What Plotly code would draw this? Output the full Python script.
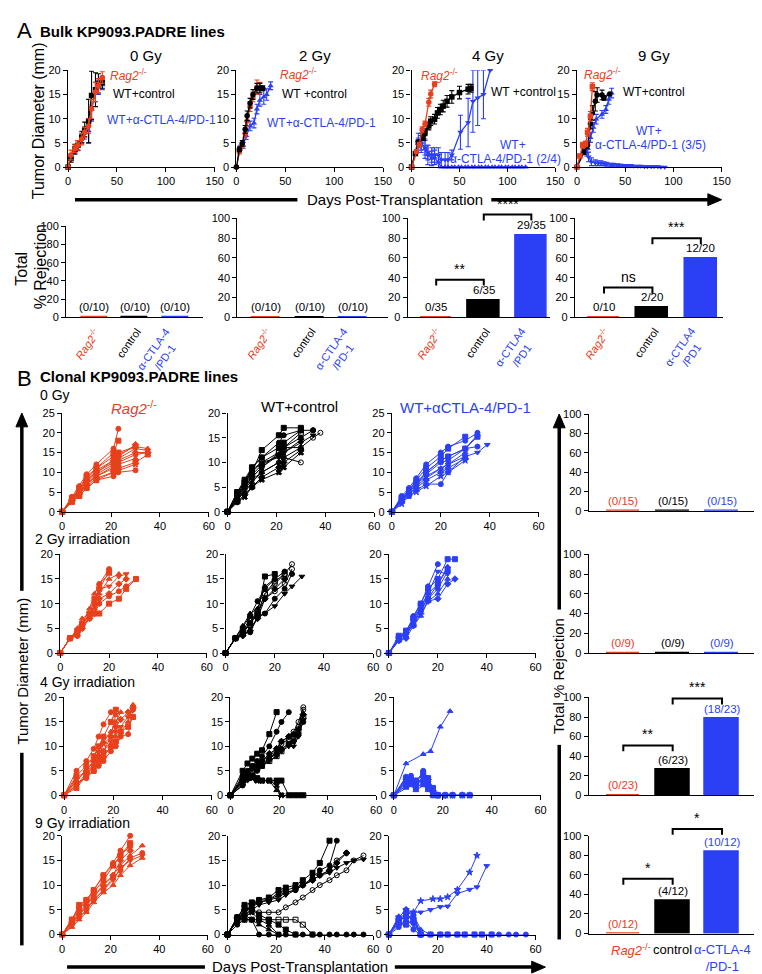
import plotly.graph_objects as go

W, H = 762, 974
FONT = "Liberation Sans, Arial, Helvetica, sans-serif"
RED = "#e8401c"
BLUE = "#2b3ff5"
BLACK = "#000000"

# ---------------- Panel A: bulk lines, group means ----------------
A_TITLES = ["0 Gy", "2 Gy", "4 Gy", "9 Gy"]

A0_DAYS = [0, 3, 7, 10, 14, 17, 21, 24, 28, 31, 35]
A0_RAG = [0, 2.5, 3.8, 4.5, 5.8, 7.2, 8.5, 12, 15.5, 16.8, 18.5]
A0_RAG_ERR = [0, 1, 0.8, 1, 1.2, 1, 1.5, 2, 2, 1.5, 1.2]
A0_WT = [0, 1.8, 3.7, 4.5, 6.2, 7.8, 9.5, 14.8, 16, 17.3, 17.5]
A0_WT_ERR = [0, 0.8, 1, 1, 1.2, 1.5, 4.5, 5, 3.5, 2, 1.2]
A0_ICB = [0, 2, 3.5, 4.4, 6, 7, 7.5, 12, 15.5, 16.5, 17]
A0_ICB_ERR = [0, 0.7, 0.8, 1, 1, 1.2, 2.5, 2.5, 2, 1.5, 1]

A2_RAG_DAYS = [0, 3, 6, 9, 11, 14, 17, 21, 24]
A2_RAG = [0, 3.2, 4.5, 7, 9.5, 12.5, 14.5, 16.5, 16.5]
A2_RAG_ERR = [0, 0.5, 0.6, 0.8, 1, 1, 1, 1.5, 1]
A2_WT_DAYS = [0, 3, 6, 9, 11, 14, 17, 21, 24, 27]
A2_WT = [0, 3.7, 4.9, 7.8, 10.6, 13.2, 15, 16.3, 16.3, 16.3]
A2_WT_ERR = [0, 0.5, 0.6, 0.8, 1, 1, 1, 1, 1, 0.5]
A2_ICB_DAYS = [0, 4, 7, 10, 14, 18, 21, 24, 28, 31, 35]
A2_ICB = [0, 4, 4.5, 6.5, 8.5, 9.1, 12, 13.8, 14.5, 15, 16.8]
A2_ICB_ERR = [0, 0.5, 0.6, 0.8, 1, 1, 1, 1.2, 1.5, 1.2, 0.8]

A4_RAG_DAYS = [0, 5, 8, 11, 14, 18, 20, 24]
A4_RAG = [0, 3.2, 4.6, 7.7, 8.9, 13.4, 15.1, 17.1]
A4_RAG_ERR = [0, 0.4, 0.5, 0.6, 0.6, 0.8, 0.8, 0.5]
A4_WT_DAYS = [0, 4, 7, 12, 14, 18, 20, 24, 27, 30, 33, 37, 42, 50, 59, 62]
A4_WT = [0, 2.8, 5.1, 6.1, 7.2, 8.5, 9.5, 9.9, 11.2, 11.9, 12.6, 13.6, 14.5, 15.4, 16.1, 16.3]
A4_WT_ERR = [0, 0.4, 0.5, 0.6, 0.7, 0.8, 0.9, 1, 1.1, 1.1, 1.2, 1.2, 1.3, 1.3, 1, 0.8]
A4_ICB_R_DAYS = [0, 7, 10, 14, 17, 21, 24, 28, 31, 35, 38, 42, 45, 49, 52, 56, 59, 63, 66,
                 70, 73, 77, 80, 84, 87, 91, 94, 98, 101, 105, 108, 112, 115, 119]
A4_ICB_R = [0, 5.5, 5, 3.8, 2.5, 1.8, 2, 1, 0, 0, 0, 0, 0, 0, 0, 0, 0, 0, 0,
            0, 0, 0, 0, 0, 0, 0, 0, 0, 0, 0, 0, 0, 0, 0]
A4_ICB_R_ERR = [0, 1.5, 2, 2, 2, 1.5, 1.5, 1.5, 0, 0, 0, 0, 0, 0, 0, 0, 0, 0, 0,
                0, 0, 0, 0, 0, 0, 0, 0, 0, 0, 0, 0, 0, 0, 0]
A4_ICB_NR_DAYS = [0, 7, 10, 14, 17, 21, 24, 28, 31, 35, 38, 42, 51, 59, 64, 69, 75, 82]
A4_ICB_NR = [0, 5, 5, 4, 3, 2.5, 2.5, 2.5, 1.5, 1.5, 1.5, 2.5, 7.2, 9.2, 13.6, 14.3, 15, 20]
A4_ICB_NR_ERR = [0, 1, 1.5, 1.5, 1.5, 1.5, 1.5, 1.5, 1.5, 1.5, 1.5, 1, 3.5, 5, 6.4, 5.7, 5, 0]

A9_RAG_DAYS = [0, 3, 6, 9, 11, 14, 16]
A9_RAG = [0, 2.3, 4.5, 4.8, 7.2, 10.5, 16.6]
A9_RAG_ERR = [0, 0.3, 0.6, 0.6, 0.8, 1, 0.8]
A9_WT_DAYS = [0, 7, 11, 14, 16, 19, 21, 26, 28, 34]
A9_WT = [0, 3.1, 4.5, 8.9, 11.2, 13.6, 14.9, 14.9, 14.3, 15.1]
A9_WT_ERR = [0, 0.5, 0.6, 1, 1.5, 2, 1.5, 1, 0.5, 0]
A9_ICB_NR_DAYS = [0, 7, 11, 14, 17, 20, 26, 30, 33, 36]
A9_ICB_NR = [0, 3.5, 3.8, 6.1, 8.2, 9.9, 10.9, 11.9, 14, 15.3]
A9_ICB_NR_ERR = [0, 0.5, 0.8, 1, 1, 1, 0.8, 0.8, 1, 1]
A9_ICB_R_DAYS = [0, 7, 10, 12, 15, 19, 22, 25, 28, 31, 35, 38, 42, 45, 49, 52, 56, 59, 63,
                 66, 70, 73, 77, 80, 84, 87, 91]
A9_ICB_R = [0, 4, 3.5, 2.1, 1.1, 0.9, 0.8, 0.8, 0.7, 0.6, 0.5, 0.5, 0.4, 0.4, 0.3, 0.3,
            0.3, 0.2, 0.2, 0.2, 0.1, 0.1, 0.1, 0.1, 0.1, 0, 0]
A9_ICB_R_ERR = [0, 1, 1.2, 1, 0.8, 0.6, 0.5, 0.5, 0.4, 0.4, 0.3, 0.3, 0.3, 0.2, 0.2, 0.2,
                0.2, 0.1, 0.1, 0.1, 0.1, 0.1, 0.1, 0.1, 0.1, 0, 0]

# Panel A rejection bars
A_BAR_VALS = [[0, 0, 0], [0, 0, 0], [0, 17.1, 82.9], [0, 10, 60]]
A_BAR_LABELS = [["(0/10)", "(0/10)", "(0/10)"], ["(0/10)", "(0/10)", "(0/10)"],
                ["0/35", "6/35", "29/35"], ["0/10", "2/20", "12/20"]]
A_BAR_CATS = [["<i>Rag2</i><sup>-/-</sup>", "control", "α-CTLA-4<br>/PD-1"],
              ["<i>Rag2</i><sup>-/-</sup>", "control", "α-CTLA-4<br>/PD-1"],
              ["<i>Rag2</i><sup>-/-</sup>", "control", "α-CTLA4<br>/PD1"],
              ["<i>Rag2</i><sup>-/-</sup>", "control", "α-CTLA4<br>/PD1"]]
A_SIG = [[], [], [(0, 1, "**", 38), (1, 2, "****", 104)], [(0, 1, "ns", 30), (1, 2, "***", 80)]]

# ---------------- Panel B: clonal lines, individual mice ----------------
B_ROW_TITLES = ["0 Gy", "2 Gy irradiation", "4 Gy irradiation", "9 Gy irradiation"]
B_COL_TITLES = ["<i>Rag2</i><sup>-/-</sup>", "WT+control", "WT+αCTLA-4/PD-1"]

B0_RAG_DAYS = [0, 4, 7, 10, 14, 21, 23, 30, 35]
B0_RAG = [[0, 3.8, 6.5, 9.5, 12, 16, 21], [0, 3.5, 6, 8.5, 11, 15, 18],
          [0, 3.2, 5.5, 8, 10.5, 13, 14.5, 16.5, 16], [0, 3, 5, 7.5, 10, 12.5, 13.5, 16, 15.5],
          [0, 2.8, 4.5, 7, 9.5, 12, 13, 15, 15], [0, 3.2, 5, 7, 9, 11.5, 12.5, 14.5, 15],
          [0, 2.5, 4, 6, 8, 10, 11, 12.5, 14.5], [0, 3, 5, 7, 9, 11, 12, 13.5],
          [0, 2.5, 4.5, 6.5, 8.5, 10, 10.5, 12], [0, 2.7, 4, 6, 8, 9, 10, 10.5],
          [0, 3.5, 6, 9, 11, 14, 15, 16.5], [0, 3, 5.5, 8, 10, 13, 14, 17]]
B0_WT_DAYS = [0, 4, 7, 10, 14, 21, 23, 30, 35, 38]
B0_WT = [[0, 4, 6, 8, 12.5, 15.5, 17, 17], [0, 3.5, 6, 9, 11, 14, 15.5, 16.5, 16.5],
         [0, 3, 5, 7, 9, 12, 13, 13, 15, 16], [0, 2.5, 4.5, 6.5, 8, 10, 11, 10],
         [0, 3, 5.5, 8, 10, 11, 12, 14, 15.5], [0, 2, 3.5, 5, 7, 9, 10, 12.5],
         [0, 3.5, 6, 8.5, 10, 12, 13, 16], [0, 3, 5, 7.5, 9.5, 11.5, 13, 15, 16.5],
         [0, 2.5, 4, 6, 8, 10, 11, 13], [0, 2, 3, 5, 6.5, 8, 9, 12],
         [0, 4, 6.5, 9, 11, 13, 14, 16.5], [0, 3, 5, 7, 9, 11.5, 12, 14.5]]
B0_ICB_DAYS = [0, 4, 7, 10, 14, 20, 23, 30, 35, 39]
B0_ICB = [[0, 4, 6, 8.5, 12, 15, 16.5, 18, 20], [0, 3.5, 5.5, 8, 11, 14, 16, 19],
          [0, 3, 5, 7, 10, 13, 14, 16, 19.5], [0, 3, 5, 7, 9, 11, 12, 14, 15, 17],
          [0, 2.5, 4.5, 6, 8, 10, 11, 13.5], [0, 2.5, 4, 5.5, 7, 7, 10, 14],
          [0, 3.5, 5.5, 7.5, 10, 13, 14, 16, 19], [0, 3, 4.5, 6.5, 8.5, 11, 12, 15],
          [0, 2, 4, 5, 6.5, 9, 10, 13], [0, 3, 5, 7, 9.5, 12.5, 13, 16, 16.5]]

B2_RAG_DAYS = [0, 4, 7, 9, 12, 14, 16, 20, 24, 27, 31]
B2_RAG = [[0, 3, 3.5, 5, 7.5, 10, 14, 17], [0, 3, 4, 5.5, 8, 11, 13, 16.5],
          [0, 3, 4.5, 6, 9, 12, 14, 16], [0, 3, 4, 6, 8, 9.5, 13, 13.5, 15.5, 16],
          [0, 3, 3.5, 5, 7, 8, 11, 12, 14, 15], [0, 3, 4, 5.5, 7, 8, 10, 11.5, 12.5, 13.5, 15],
          [0, 3, 4.5, 6, 7.5, 8, 8, 10, 11, 13, 15], [0, 3, 5, 7, 8, 9, 12, 15, 16]]
B2_WT_DAYS = [0, 4, 7, 10, 13, 16, 20, 24, 27, 31]
B2_WT = [[0, 3, 4, 6, 8, 15.5, 16], [0, 3, 5, 7.5, 10.5, 13, 15, 16.5],
         [0, 3, 4, 6, 8, 12, 14, 16, 18], [0, 3, 4, 6.5, 8, 11, 12.5, 14, 17],
         [0, 3, 3.5, 5, 7, 8, 9.5, 12, 13.5, 15.5], [0, 3, 3.5, 4.5, 7, 11, 13, 15],
         [0, 3, 4.5, 7, 8, 12, 14.5, 16], [0, 3, 4, 4.2, 7.5, 8, 11, 13, 16],
         [0, 3, 5.5, 8, 9, 13.5, 15]]
B2_ICB_DAYS = [0, 4, 7, 10, 13, 16, 20, 24, 27]
B2_ICB = [[0, 3, 4, 7.5, 10, 13.5, 18], [0, 3.5, 4.5, 7, 10, 13, 15, 19, 19],
          [0, 2.5, 3.5, 6, 9, 12, 14, 17.5], [0, 3, 4, 6.5, 9.5, 12, 16.5, 16],
          [0, 2.5, 3, 5.5, 8, 10.5, 11, 14, 15], [0, 3, 4, 6, 8.5, 11, 13, 16.5],
          [0, 3, 4.5, 7, 9, 11, 14, 17], [0, 2.5, 4, 5.5, 7.5, 10.5, 12, 15]]

B4_RAG_DAYS = [0, 5, 9, 12, 14, 16, 19, 21, 23, 26, 28]
B4_RAG = [[0, 5, 7, 9.5, 12, 14.5, 17], [0, 4, 6, 8, 10, 12, 15, 17.5],
          [0, 3, 5, 6, 7, 8, 10, 12, 13, 15, 18.5], [0, 2, 4, 6, 7, 9, 11, 13, 14, 16, 17.5],
          [0, 3.5, 5, 7, 8, 9, 12, 14, 15.5, 17, 18], [0, 2.5, 3.5, 5, 6, 7, 9, 10, 12, 12.5, 17.5],
          [0, 1.5, 4, 5, 6.5, 8, 10, 11, 13, 14, 16], [0, 3, 5, 7, 9, 11, 13, 15, 17],
          [0, 2, 4.5, 6, 8, 10.5, 12, 16.5]]
B4_WT_DAYS = [0, 5, 7, 9, 11, 13, 16, 19, 21, 24, 26, 28, 30]
B4_WT = [[0, 5, 6.5, 7.5, 8.5, 9.2, 12.5, 17], [0, 4, 5, 6, 7, 8, 10, 13, 15, 17],
         [0, 3.5, 4.5, 6, 6.5, 7, 8, 9.5, 11, 12, 13, 15, 18],
         [0, 3, 4, 5, 6, 6.5, 7.5, 9, 10.5, 11.5, 12, 14, 17.5],
         [0, 2, 3, 4, 5, 6, 7, 8, 9, 10, 10, 12, 15.5],
         [0, 3, 4.5, 5.5, 6, 7, 8.5, 9.5, 11, 12, 12.5, 13.5, 16.5],
         [0, 2.5, 3.5, 4.5, 5.5, 6, 7, 8, 9, 10.5, 11.5, 13, 16],
         [0, 2, 3.5, 4, 5, 6, 7.5, 8.5, 9.5, 10.5, 11, 12.5, 15],
         [0, 3.5, 3.5, 3.5, 3, 3, 3, 1, 0], [0, 3, 3.5, 3.5, 3, 3, 3, 2, 0],
         [0, 3, 4, 4, 3.5, 3, 3, 3, 3, 0, 0, 0, 0]]
B4_ICB_DAYS = [0, 5, 7, 9, 12, 14, 16, 18, 21, 24, 28, 31]
B4_ICB = [[0, 3.8, 3.5, 2.5, 5, 3.5, 1, 0, 0, 0, 0, 0], [0, 3.5, 3, 3, 4.5, 3.5, 1.5, 0, 0, 0, 0, 0],
          [0, 3, 3.5, 2, 4, 3, 0, 0], [0, 2.5, 2.5, 2, 3.5, 2.5, 0.5, 0, 0],
          [0, 2, 3, 2.5, 3, 2, 1, 0, 0], [0, 3.5, 4, 3, 4, 2, 0, 0, 0, 0],
          [0, 2, 2.5, 1.5, 2.5, 1.5, 0, 0], [0, 1.5, 2, 1, 2, 1, 0, 0],
          [0, 3, 3, 2, 3.5, 3, 0.5, 0, 0, 0, 0, 0]]
B4_ICB_ESC_DAYS = [0, 5, 12, 15, 19, 23]
B4_ICB_ESC = [0, 6.5, 8.4, 9, 14, 17.2]

B9_RAG_DAYS = [0, 4, 7, 10, 13, 17, 21, 24, 28, 33]
B9_RAG = [[0, 3, 5.5, 7, 9, 12, 14.5, 17, 20], [0, 3, 5, 7, 8.5, 11, 14, 16, 18.5],
          [0, 2.5, 4.5, 6, 8, 10, 12, 14, 16, 18], [0, 2, 4, 5.5, 7, 9, 11, 13.5, 15, 16],
          [0, 2.5, 4, 6, 7.5, 10, 12, 15, 17], [0, 2, 3.5, 5, 7, 9, 11.5, 13, 15.5, 16.5],
          [0, 3, 6, 7, 9, 12, 14, 16, 18], [0, 1.5, 3, 4.5, 6.5, 8.5, 10, 12, 14, 15.5]]
B9_WT_DAYS = [0, 4, 7, 10, 13, 17, 21, 24, 28, 31, 35, 38, 42, 45, 49, 52, 56]
B9_WT = [[0, 3, 6, 6.5, 7, 7.5, 9, 9.5, 10, 11, 12.5, 14.5, 19],
         [0, 3, 5, 5.5, 6.5, 7, 8, 8.5, 9, 10, 11.5, 13, 14, 19],
         [0, 3, 4, 6, 7, 7, 7.5, 8.5, 9, 10, 11, 12, 13, 15, 16.5],
         [0, 3, 4, 5, 4.5, 4.5, 4.5, 5.5, 6.5, 7.5, 9, 10, 11, 12, 13, 15, 16],
         [0, 3, 4, 5, 6, 6.5, 7, 8, 9, 10, 11, 12, 12.5, 13.5, 14.5, 15, 15.2],
         [0, 3.5, 5, 6, 6.5, 7, 8.5, 9, 9.5, 10, 11, 12, 13, 14.5, 16.5],
         [0, 3, 3, 3, 3, 3, 3, 3, 3, 2, 0],
         [0, 2, 3, 3, 0, 0, 0, 0, 0, 0, 0, 0, 0, 0, 0, 0, 0],
         [0, 3.5, 4, 3, 2, 1, 0], [0, 3, 3.5, 4.5, 3, 2, 0],
         [0, 3.5, 5.5, 5, 4, 3, 2, 1, 0]]
B9_ICB_DAYS = [0, 4, 7, 10, 13, 17, 21, 24, 28, 31, 35, 38, 42, 45, 49, 52, 56]
B9_ICB = [[0, 3.5, 5, 4, 0, 0, 0, 0, 0, 0, 0, 0, 0, 0, 0, 0, 0],
          [0, 2.5, 4, 3, 0, 0, 0, 0, 0, 0, 0, 0, 0], [0, 3, 3.5, 3.5, 0, 0, 0, 0],
          [0, 2, 3, 2, 0, 0], [0, 3, 4.5, 2.5, 0], [0, 1.5, 2.5, 1, 0],
          [0, 2.5, 2, 3, 0], [0, 3.5, 3, 4, 1, 0]]
B9_ICB_ESC1_DAYS = [0, 4, 7, 10, 13, 18, 21, 24, 28, 33, 36]
B9_ICB_ESC1 = [0, 3.5, 5, 4.5, 6.8, 7.2, 7.2, 7.6, 9.1, 12.6, 16]
B9_ICB_ESC2_DAYS = [0, 4, 7, 10, 13, 17, 21, 24, 28, 33, 36, 40]
B9_ICB_ESC2 = [0, 3, 4, 4.5, 4.5, 5, 5.6, 5.7, 8.3, 9.1, 9.6, 13.9]

# Panel B rejection bars
B_BAR_VALS = [[0, 0, 0], [0, 0, 0], [0, 26.1, 78.3], [0, 33.3, 83.3]]
B_BAR_LABELS = [["(0/15)", "(0/15)", "(0/15)"], ["(0/9)", "(0/9)", "(0/9)"],
                ["(0/23)", "(6/23)", "(18/23)"], ["(0/12)", "(4/12)", "(10/12)"]]
B_SIG = [[], [], [(0, 1, "**", 51), (1, 2, "***", 99)], [(0, 1, "*", 56), (1, 2, "*", 107)]]
B_BAR_CATS = ["<i>Rag2</i><sup>-/-</sup>", "control", "α-CTLA-4<br>/PD-1"]

GROUP_COLORS = [RED, BLACK, BLUE]

# ---------------- helpers ----------------
fig = go.Figure()
layout = {}
shapes = []
annotations = []
AX = {"n": 0}


def PX(x):
    return x / W


def PY(y):
    return 1 - y / H


def add_axes(x0, x1, ytop, ybot, xr, yr, xt, yt, bar=False):
    AX["n"] += 1
    n = AX["n"]
    sx = "" if n == 1 else str(n)
    common = dict(showline=True, linecolor="black", linewidth=1.3, showgrid=False,
                  zeroline=False, ticks="outside", ticklen=4, tickwidth=1.2,
                  tickcolor="black", tickfont=dict(size=11, family=FONT, color="black"),
                  fixedrange=True)
    xa = dict(common, domain=[PX(x0), PX(x1)], range=xr, anchor="y" + sx)
    if bar:
        xa.update(ticks="", showticklabels=False)
    else:
        xa.update(tickvals=xt)
    ya = dict(common, domain=[PY(ybot), PY(ytop)], range=yr, anchor="x" + sx, tickvals=yt)
    layout["xaxis" + sx] = xa
    layout["yaxis" + sx] = ya
    info = dict(x="x" + sx, y="y" + sx, x0=x0, x1=x1, ytop=ytop, ybot=ybot, xr=xr, yr=yr)
    return info


def to_px(info, xv, yv):
    xp = info["x0"] + (xv - info["xr"][0]) / (info["xr"][1] - info["xr"][0]) * (info["x1"] - info["x0"])
    yp = info["ybot"] - (yv - info["yr"][0]) / (info["yr"][1] - info["yr"][0]) * (info["ybot"] - info["ytop"])
    return xp, yp


def text(x, y, s, size=12, color="black", xanchor="center", yanchor="middle", angle=0, bold=False):
    if bold:
        s = "<b>" + s + "</b>"
    annotations.append(dict(x=PX(x), y=PY(y), xref="paper", yref="paper", text=s,
                            showarrow=False, xanchor=xanchor, yanchor=yanchor,
                            textangle=angle, font=dict(size=size, family=FONT, color=color)))


def line_px(x0, y0, x1, y1, width=3.5):
    shapes.append(dict(type="line", xref="paper", yref="paper", x0=PX(x0), y0=PY(y0),
                       x1=PX(x1), y1=PY(y1), line=dict(color="black", width=width)))


def head(tipx, tipy, direction):
    if direction == "right":
        pts = [(tipx, tipy), (tipx - 14, tipy - 6), (tipx - 14, tipy + 6)]
    else:
        pts = [(tipx, tipy), (tipx - 6, tipy + 14), (tipx + 6, tipy + 14)]
    path = "M " + " L ".join(f"{PX(a):.5f},{PY(b):.5f}" for a, b in pts) + " Z"
    shapes.append(dict(type="path", xref="paper", yref="paper", path=path,
                       fillcolor="black", line=dict(color="black", width=1)))


def mean_trace(info, days, vals, errs, color, symbol):
    fig.add_trace(go.Scatter(x=days, y=vals, mode="lines+markers", xaxis=info["x"], yaxis=info["y"],
                             line=dict(color=color, width=1.3),
                             marker=dict(color=color, symbol=symbol, size=5.5),
                             error_y=dict(type="data", array=errs, color=color, thickness=1.1, width=2.5),
                             cliponaxis=False, showlegend=False, hoverinfo="skip"))


def mouse_traces(info, days, series, color, symbols):
    for i, vals in enumerate(series):
        sym = symbols[i % len(symbols)]
        fig.add_trace(go.Scatter(x=days[:len(vals)], y=vals, mode="lines+markers",
                                 xaxis=info["x"], yaxis=info["y"],
                                 line=dict(color=color, width=1),
                                 marker=dict(color=color, symbol=sym, size=5,
                                             line=dict(color=color, width=1)),
                                 cliponaxis=False, showlegend=False, hoverinfo="skip"))


def bar_panel(info, vals, labels, label_colors, sigs, width):
    fig.add_trace(go.Bar(x=[0, 1, 2], y=vals, width=width, xaxis=info["x"], yaxis=info["y"],
                         marker=dict(color=GROUP_COLORS, line=dict(color=GROUP_COLORS, width=1.5)),
                         showlegend=False, hoverinfo="skip"))
    for i in range(3):
        xp, yp = to_px(info, i, vals[i])
        text(xp, yp - 2, labels[i], size=11.5, color=label_colors[i], yanchor="bottom")
    for a, b, s, yv in sigs:
        xa, ya = to_px(info, a, yv)
        xb, _ = to_px(info, b, yv)
        drop = 6
        path = (f"M {PX(xa):.5f},{PY(ya + drop):.5f} L {PX(xa):.5f},{PY(ya):.5f} "
                f"L {PX(xb):.5f},{PY(ya):.5f} L {PX(xb):.5f},{PY(ya + drop):.5f}")
        shapes.append(dict(type="path", xref="paper", yref="paper", path=path,
                           line=dict(color="black", width=2)))
        text((xa + xb) / 2, ya - 1, s, size=14, yanchor="bottom")


# ---------------- Panel A ----------------
text(4, 17, "A", size=22, xanchor="left")
text(27, 18, "Bulk KP9093.PADRE lines", size=15, xanchor="left", bold=True)

A_X = [(58, 207), (229, 378), (407, 553), (575, 722)]
A_INFO = []
for k, (x0, x1) in enumerate(A_X):
    info = add_axes(x0, x1, 57, 155, [0, 150], [0, 20], [0, 50, 100, 150], [0, 5, 10, 15, 20])
    A_INFO.append(info)
    text((x0 + x1) / 2 + 5, 42, A_TITLES[k], size=15)

i0, i2, i4, i9 = A_INFO
mean_trace(i0, A0_DAYS, A0_ICB, A0_ICB_ERR, BLUE, "triangle-up")
mean_trace(i0, A0_DAYS, A0_WT, A0_WT_ERR, BLACK, "square")
mean_trace(i0, A0_DAYS, A0_RAG, A0_RAG_ERR, RED, "circle")
mean_trace(i2, A2_ICB_DAYS, A2_ICB, A2_ICB_ERR, BLUE, "triangle-up")
mean_trace(i2, A2_RAG_DAYS, A2_RAG, A2_RAG_ERR, RED, "circle")
mean_trace(i2, A2_WT_DAYS, A2_WT, A2_WT_ERR, BLACK, "circle")
mean_trace(i4, A4_ICB_R_DAYS, A4_ICB_R, A4_ICB_R_ERR, BLUE, "triangle-up")
mean_trace(i4, A4_ICB_NR_DAYS, A4_ICB_NR, A4_ICB_NR_ERR, BLUE, "triangle-down")
mean_trace(i4, A4_WT_DAYS, A4_WT, A4_WT_ERR, BLACK, "square")
mean_trace(i4, A4_RAG_DAYS, A4_RAG, A4_RAG_ERR, RED, "circle")
mean_trace(i9, A9_ICB_R_DAYS, A9_ICB_R, A9_ICB_R_ERR, BLUE, "triangle-down")
mean_trace(i9, A9_ICB_NR_DAYS, A9_ICB_NR, A9_ICB_NR_ERR, BLUE, "triangle-up")
mean_trace(i9, A9_WT_DAYS, A9_WT, A9_WT_ERR, BLACK, "circle")
mean_trace(i9, A9_RAG_DAYS, A9_RAG, A9_RAG_ERR, RED, "square")

RAG_TXT = "<i>Rag2</i><sup>-/-</sup>"
text(99, 62, RAG_TXT, size=12, color=RED, xanchor="left")
text(102, 81, "WT+control", size=12, xanchor="left")
text(95, 107, "WT+α-CTLA-4/PD-1", size=12, color=BLUE, xanchor="left")
text(271, 61, RAG_TXT, size=12, color=RED, xanchor="left")
text(273, 81, "WT +control", size=12, xanchor="left")
text(258, 110, "WT+α-CTLA-4/PD-1", size=12, color=BLUE, xanchor="left")
text(415, 62, RAG_TXT, size=12, color=RED, xanchor="left")
text(486, 79, "WT +control", size=12, xanchor="left")
text(510, 133, "WT+", size=12, color=BLUE)
text(502, 147, "α-CTLA-4/PD-1 (2/4)", size=12, color=BLUE)
text(580, 61, RAG_TXT, size=12, color=RED, xanchor="left")
text(620, 79, "WT+control", size=12, xanchor="left")
text(648, 118, "WT+", size=12, color=BLUE)
text(650, 133, "α-CTLA-4/PD-1 (3/5)", size=12, color=BLUE)

text(28, 108, "Tumor Diameter (mm)", size=16, angle=-90)
line_px(65, 188, 291, 188)
text(390, 188, "Days Post-Transplantation", size=15)
line_px(488, 188, 710, 188)
head(722, 188, "right")

# Panel A bars
A_BAR_GEOM = [(56, 195, 215, [-0.7, 2.68]), (230, 383, 207, [-0.66, 2.8]),
              (403, 548, 207, [-0.6, 2.4]), (573, 723, 207, [-0.6, 2.45])]
for k, (x0, x1, ytop, xr) in enumerate(A_BAR_GEOM):
    info = add_axes(x0, x1, ytop, 307, xr, [0, 100], None, [0, 20, 40, 60, 80, 100], bar=True)
    bar_panel(info, A_BAR_VALS[k], A_BAR_LABELS[k], [BLACK, BLACK, BLACK], A_SIG[k], 0.66)
    for i in range(3):
        xp, _ = to_px(info, i, 0)
        text(xp + 11, 313, A_BAR_CATS[k][i], size=11, color=GROUP_COLORS[i],
             xanchor="right", yanchor="top", angle=-55)

text(11, 258, "Total", size=16, angle=-90)
text(30, 256, "% Rejection", size=16, angle=-90)

# ---------------- Panel B ----------------
text(4, 369, "B", size=22, xanchor="left")
text(27, 367, "Clonal KP9093.PADRE lines", size=15, xanchor="left", bold=True)

B_ROWS = [(404, 504), (547, 647), (692, 791), (832, 932)]
B_COLS = [[(52, 201), (220, 369), (387, 536)],
          [(50, 199), (218, 368), (384, 533)],
          [(54, 204), (223, 371), (389, 538)],
          [(52, 200), (220, 368), (384, 533)]]
B_ROW_LABEL_POS = [(27, 386), (22, 532), (27, 676), (22, 819)]

SYM_FILLED = ["circle", "square", "triangle-up", "triangle-down", "diamond", "circle",
              "square", "triangle-up", "star", "circle", "square", "diamond"]
SYM_MIXED = ["square", "circle", "circle-open", "circle-open", "triangle-down", "diamond",
             "square-open", "circle", "triangle-up", "x", "square", "star"]

B_DATA = [
    [(B0_RAG_DAYS, B0_RAG), (B0_WT_DAYS, B0_WT), (B0_ICB_DAYS, B0_ICB)],
    [(B2_RAG_DAYS, B2_RAG), (B2_WT_DAYS, B2_WT), (B2_ICB_DAYS, B2_ICB)],
    [(B4_RAG_DAYS, B4_RAG), (B4_WT_DAYS, B4_WT), (B4_ICB_DAYS, B4_ICB)],
    [(B9_RAG_DAYS, B9_RAG), (B9_WT_DAYS, B9_WT), (B9_ICB_DAYS, B9_ICB)],
]
B_YMAX = [[25, 20, 25], [20, 20, 20], [20, 20, 20], [20, 20, 20]]

for r, (ytop, ybot) in enumerate(B_ROWS):
    text(B_ROW_LABEL_POS[r][0], B_ROW_LABEL_POS[r][1], B_ROW_TITLES[r], size=14, xanchor="left")
    for c in range(3):
        x0, x1 = B_COLS[r][c]
        ymax = B_YMAX[r][c]
        yt = [0, 5, 10, 15, 20, 25] if ymax == 25 else [0, 5, 10, 15, 20]
        info = add_axes(x0, x1, ytop, ybot, [0, 60], [0, ymax], [0, 20, 40, 60], yt)
        days, series = B_DATA[r][c]
        syms = SYM_MIXED if c == 1 else SYM_FILLED
        mouse_traces(info, days, series, GROUP_COLORS[c], syms)
        if r == 2 and c == 2:
            mouse_traces(info, B4_ICB_ESC_DAYS, [B4_ICB_ESC], BLUE, ["triangle-up"])
        if r == 3 and c == 2:
            mouse_traces(info, B9_ICB_ESC1_DAYS, [B9_ICB_ESC1], BLUE, ["star"])
            mouse_traces(info, B9_ICB_ESC2_DAYS, [B9_ICB_ESC2], BLUE, ["triangle-down"])

text(125, 398, B_COL_TITLES[0], size=15, color=RED)
text(293, 397, B_COL_TITLES[1], size=15)
text(462, 398, B_COL_TITLES[2], size=15, color=BLUE)

# B big arrows
line_px(11, 943, 11, 748)
text(12, 665, "Tumor Diameter (mm)", size=15, angle=-90)
line_px(11, 584, 11, 416)
head(11, 404, "up")
line_px(57, 965, 197, 965)
text(294, 964, "Days Post-Transplantation", size=15)
line_px(390, 965, 531, 965)
head(543, 965, "right")

# B bars
B_BAR_ROWS = [(405, 503), (547, 647), (692, 791), (832, 931)]
for r, (ytop, ybot) in enumerate(B_BAR_ROWS):
    info = add_axes(587, 755, ytop, ybot, [-0.7, 2.65], [0, 100], None,
                    [0, 20, 40, 60, 80, 100], bar=True)
    bar_panel(info, B_BAR_VALS[r], B_BAR_LABELS[r], GROUP_COLORS, B_SIG[r], 0.68)
    if r == 3:
        for i in range(3):
            xp, _ = to_px(info, i, 0)
            text(xp + (8 if i == 0 else 0), 938, B_BAR_CATS[i], size=13, color=GROUP_COLORS[i],
                 yanchor="top")

line_px(557, 937, 557, 740)
text(557, 670, "Total % Rejection", size=15, angle=-90)
line_px(557, 603, 557, 418)
head(557, 405, "up")

layout.update(width=W, height=H, margin=dict(l=0, r=0, t=0, b=0), autosize=False,
              paper_bgcolor="white", plot_bgcolor="white", shapes=shapes,
              annotations=annotations, font=dict(family=FONT, color="black"),
              showlegend=False, bargap=0)
fig.update_layout(**layout)
fig.write_html("out.html")
